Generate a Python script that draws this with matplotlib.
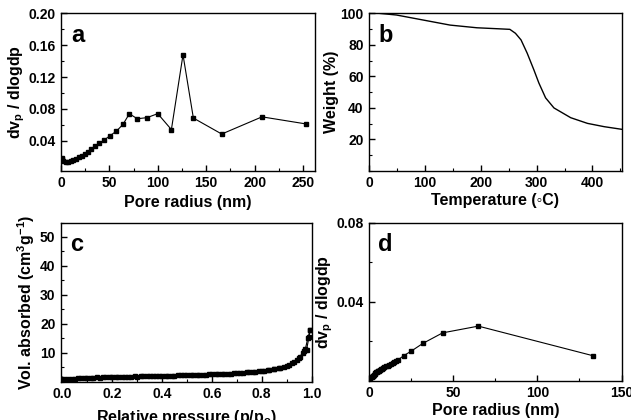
import numpy as np
import matplotlib
matplotlib.use("Agg")
import matplotlib.pyplot as plt
from matplotlib.ticker import MultipleLocator, FormatStrFormatter

matplotlib.rcParams.update({
    "font.family": ["Liberation Sans", "DejaVu Sans"],
    "font.weight": "bold",
    "axes.labelweight": "bold",
    "xtick.labelsize": 10,
    "ytick.labelsize": 10,
    "axes.labelsize": 11.5,
    "axes.linewidth": 1.0,
    "mathtext.fontset": "custom",
    "mathtext.rm": "Liberation Sans:bold",
    "mathtext.it": "Liberation Sans:bold",
    "mathtext.bf": "Liberation Sans:bold",
})

# --- data (a) pore size distribution ---
a_radius = [0.7, 1.0, 2.4, 4.8, 7.2, 10.0, 12.7, 15.5, 18.6, 21.7, 24.8, 27.9, 31.4,
            35.1, 39.6, 44.8, 50.6, 57.2, 64.0, 70.6, 78.8, 88.8, 99.9, 114.0,
            126.0, 136.7, 166.0, 207.6, 253.5]
a_dv = [0.0182, 0.0166, 0.0145, 0.0136, 0.0136, 0.0145, 0.0157, 0.0174, 0.0190, 0.0212,
        0.0232, 0.0262, 0.0295, 0.0333, 0.0367, 0.0410, 0.0463, 0.0520, 0.0605, 0.0739,
        0.0676, 0.0690, 0.0740, 0.0540, 0.1480, 0.0685, 0.0484, 0.0700, 0.0610]

# --- data (b) TGA ---
b_temp = [20, 49, 97, 145, 193, 229, 252, 262, 272, 283, 295, 304, 316, 331, 361,
          391, 421, 453]
b_weight = [100.0, 99.0, 95.8, 92.6, 90.9, 90.3, 89.9, 87.4, 83.2, 74.8, 64.2, 55.8,
            46.4, 40.0, 33.8, 30.2, 28.1, 26.4]

# --- data (c) N2 isotherm ---
c_p_ads = [0.005, 0.025, 0.05, 0.075, 0.10, 0.125, 0.15, 0.175, 0.20, 0.225, 0.25,
           0.275, 0.30, 0.325, 0.35, 0.375, 0.40, 0.425, 0.45, 0.475, 0.50, 0.525,
           0.55, 0.575, 0.60, 0.625, 0.65, 0.675, 0.70, 0.725, 0.75, 0.775, 0.80,
           0.825, 0.85, 0.875, 0.90, 0.92, 0.94, 0.955, 0.97, 0.98, 0.99, 0.995]
c_v_ads = [0.9, 1.0, 1.1, 1.2, 1.25, 1.3, 1.4, 1.45, 1.5, 1.55, 1.6, 1.7, 1.75, 1.8,
           1.85, 1.9, 2.0, 2.05, 2.1, 2.15, 2.2, 2.3, 2.35, 2.45, 2.5, 2.6, 2.7, 2.8,
           2.95, 3.1, 3.3, 3.5, 3.7, 4.0, 4.4, 4.9, 5.5, 6.3, 7.5, 8.5, 10.5, 11.0,
           15.5, 18.0]
c_p_des = [0.995, 0.985, 0.975, 0.965, 0.95, 0.93, 0.91, 0.89, 0.87, 0.85, 0.83, 0.81,
           0.79, 0.765, 0.74, 0.715, 0.69, 0.665, 0.64, 0.615, 0.59, 0.565, 0.54,
           0.515, 0.49, 0.465, 0.44, 0.415, 0.39, 0.365, 0.34, 0.315, 0.29, 0.265,
           0.24, 0.215, 0.19, 0.165, 0.14, 0.115, 0.09, 0.065, 0.04]
c_v_des = [18.0, 15.0, 11.2, 10.0, 8.3, 6.8, 5.8, 5.2, 4.7, 4.3, 4.0, 3.8, 3.6, 3.4,
           3.2, 3.05, 2.9, 2.8, 2.7, 2.6, 2.5, 2.45, 2.4, 2.3, 2.25, 2.2, 2.1, 2.05,
           2.0, 1.95, 1.9, 1.85, 1.8, 1.75, 1.7, 1.65, 1.6, 1.5, 1.45, 1.4, 1.3, 1.2,
           1.1]

# --- data (d) pore size distribution ---
d_radius = [0.8, 1.2, 1.6, 2.0, 2.4, 2.8, 3.2, 3.6, 4.0, 4.5, 5.0, 5.5, 6.0, 6.5, 7.0,
            7.5, 8.0, 9.0, 10.0, 11.0, 12.0, 13.0, 14.0, 15.0, 16.0, 17.1, 20.6, 24.9,
            32.0, 43.7, 64.9, 133.2]
d_dv = [0.0015, 0.0018, 0.0020, 0.0024, 0.0027, 0.0030, 0.0036, 0.0042, 0.0046, 0.0047,
        0.0048, 0.0050, 0.0052, 0.0055, 0.0058, 0.0060, 0.0063, 0.0068, 0.0073, 0.0078,
        0.0083, 0.0088, 0.0093, 0.0098, 0.0102, 0.0106, 0.0128, 0.0150, 0.0190,
        0.0243, 0.0277, 0.0127]

fig = plt.figure(figsize=(6.31, 4.20), dpi=100)
ax_a = fig.add_axes([0.0967, 0.593, 0.402, 0.375])
ax_b = fig.add_axes([0.585, 0.593, 0.400, 0.375])
ax_c = fig.add_axes([0.0967, 0.0912, 0.397, 0.379])
ax_d = fig.add_axes([0.585, 0.093, 0.400, 0.377])

for ax in (ax_a, ax_b, ax_c, ax_d):
    ax.tick_params(which="major", direction="in", length=4, width=1, pad=4)
    ax.tick_params(which="minor", direction="in", length=2, width=0.8)

mk = dict(color="black", linewidth=0.8, marker="s", markersize=3.3)
letter = dict(fontsize=17, fontweight="bold", va="center", ha="left")

# (a)
ax_a.plot(a_radius, a_dv, **mk)
ax_a.set_xlim(0, 262)
ax_a.set_ylim(0.002, 0.2)
ax_a.set_yticks([0.04, 0.08, 0.12, 0.16, 0.20])
ax_a.yaxis.set_major_formatter(FormatStrFormatter("%.2f"))
ax_a.xaxis.set_major_locator(MultipleLocator(50))
ax_a.xaxis.set_minor_locator(MultipleLocator(25))
ax_a.yaxis.set_minor_locator(MultipleLocator(0.02))
ax_a.set_xlabel("Pore radius (nm)", labelpad=3)
ax_a.set_ylabel("dv$_\\mathrm{p}$ / dlogdp", labelpad=1)
ax_a.text(0.04, 0.86, "a", transform=ax_a.transAxes, **letter)

# (b)
ax_b.plot(b_temp, b_weight, color="black", linewidth=1.0)
ax_b.set_xlim(0, 452)
ax_b.set_ylim(0, 100)
ax_b.set_yticks([20, 40, 60, 80, 100])
ax_b.xaxis.set_major_locator(MultipleLocator(100))
ax_b.xaxis.set_minor_locator(MultipleLocator(50))
ax_b.yaxis.set_minor_locator(MultipleLocator(10))
ax_b.set_xlabel("Temperature (\u25e6C)", labelpad=2)
ax_b.set_ylabel("Weight (%)", labelpad=1)
ax_b.text(0.035, 0.86, "b", transform=ax_b.transAxes, **letter)

# (c)
ax_c.plot(c_p_ads, c_v_ads, **mk)
ax_c.plot(c_p_des, c_v_des, **mk)
ax_c.set_xlim(-0.005, 1.0)
ax_c.set_ylim(0, 55)
ax_c.set_yticks([10, 20, 30, 40, 50])
ax_c.set_xticks([0.0, 0.2, 0.4, 0.6, 0.8, 1.0])
ax_c.xaxis.set_major_formatter(FormatStrFormatter("%.1f"))
ax_c.xaxis.set_minor_locator(MultipleLocator(0.1))
ax_c.yaxis.set_minor_locator(MultipleLocator(5))
ax_c.set_xlabel("Relative pressure (p/p$_\\mathrm{o}$)", labelpad=4.5)
ax_c.set_ylabel("Vol. absorbed (cm$^\\mathrm{3}$g$^\\mathrm{-1}$)", labelpad=2)
ax_c.text(0.036, 0.86, "c", transform=ax_c.transAxes, **letter)

# (d)
ax_d.plot(d_radius, d_dv, **mk)
ax_d.set_xlim(0, 150)
ax_d.set_ylim(0, 0.08)
ax_d.set_yticks([0.04, 0.08])
ax_d.yaxis.set_major_formatter(FormatStrFormatter("%.2f"))
ax_d.xaxis.set_major_locator(MultipleLocator(50))
ax_d.xaxis.set_minor_locator(MultipleLocator(25))
ax_d.yaxis.set_minor_locator(MultipleLocator(0.02))
ax_d.set_xlabel("Pore radius (nm)", labelpad=2)
ax_d.set_ylabel("dv$_\\mathrm{p}$ / dlogdp", labelpad=1)
ax_d.text(0.035, 0.86, "d", transform=ax_d.transAxes, **letter)

fig.savefig("out.png", dpi=100)
